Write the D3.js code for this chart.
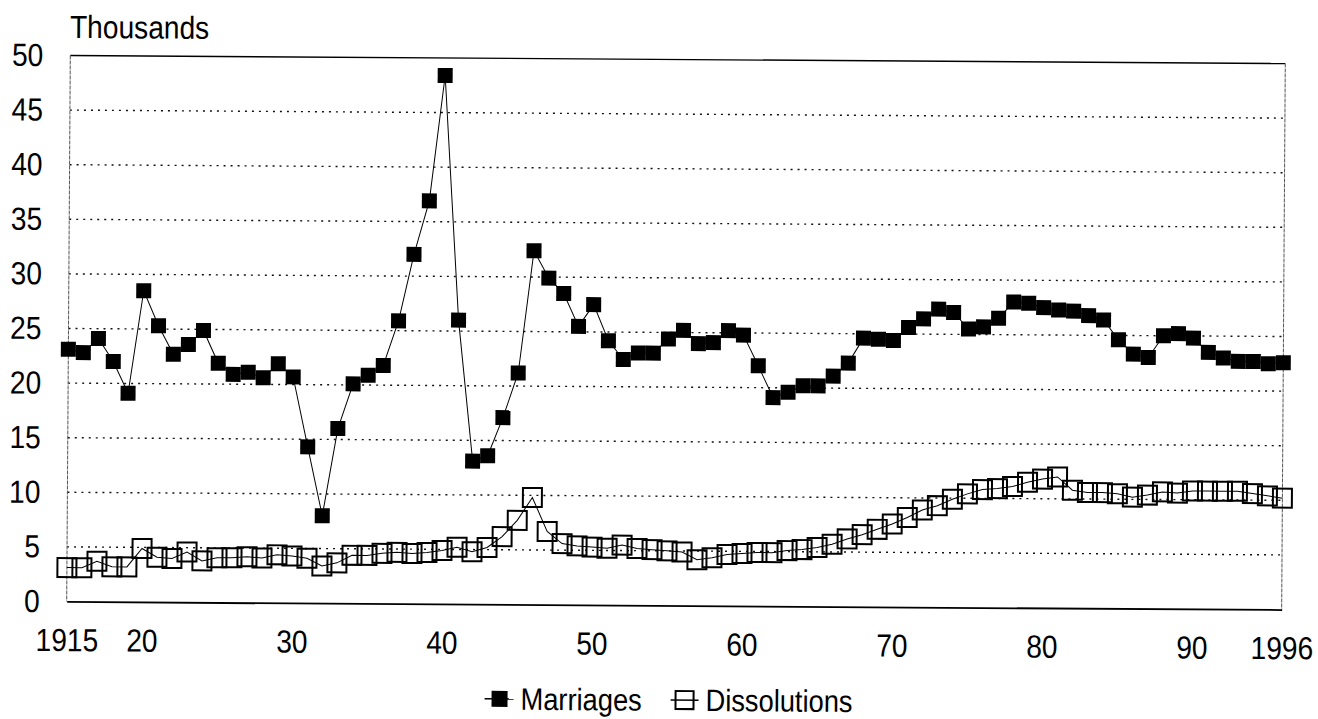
<!DOCTYPE html>
<html><head><meta charset="utf-8">
<script src="https://cdn.jsdelivr.net/npm/d3@7"></script>
<style>
body{margin:0;background:#fff}
text{font-family:"Liberation Sans",Arial,sans-serif;fill:#000}
</style>
</head><body>
<svg id="c" width="1318" height="719"></svg>
<script>
const years = d3.range(1915, 1997);
const marriages = [
  23.1, 22.8, 24.1, 22.0, 19.1, 28.5, 25.3, 22.7, 23.6, 24.9,
  21.9, 20.9, 21.1, 20.6, 21.9, 20.7, 14.3, 8.0, 16.0, 20.1,
  20.9, 21.8, 25.9, 32.0, 36.9, 48.4, 26.0, 13.1, 13.6, 17.1,
  21.2, 32.4, 29.9, 28.5, 25.5, 27.5, 24.2, 22.5, 23.1, 23.1,
  24.4, 25.2, 24.0, 24.1, 25.2, 24.8, 22.0, 19.1, 19.6, 20.2,
  20.2, 21.1, 22.3, 24.6, 24.5, 24.4, 25.6, 26.4, 27.3, 27.0,
  25.5, 25.7, 26.5, 28.0, 27.9, 27.5, 27.3, 27.2, 26.8, 26.4,
  24.6, 23.3, 23.0, 25.0, 25.2, 24.8, 23.5, 23.0, 22.7, 22.7,
  22.5, 22.6
];
const dissolutions = [
  3.1, 3.1, 3.7, 3.2, 3.2, 4.9, 4.1, 4.0, 4.6, 3.8,
  4.1, 4.1, 4.2, 4.1, 4.4, 4.3, 4.1, 3.4, 3.7, 4.4,
  4.4, 4.6, 4.7, 4.6, 4.7, 4.9, 5.2, 4.8, 5.2, 6.2,
  7.7, 9.8, 6.7, 5.6, 5.4, 5.3, 5.2, 5.5, 5.2, 5.1,
  5.0, 4.9, 4.2, 4.4, 4.7, 4.8, 4.9, 4.9, 5.1, 5.2,
  5.4, 5.7, 6.2, 6.6, 7.1, 7.6, 8.2, 8.9, 9.3, 9.9,
  10.4, 10.8, 10.9, 11.1, 11.5, 11.8, 12.0, 10.8, 10.6, 10.6,
  10.5, 10.2, 10.4, 10.7, 10.6, 10.8, 10.8, 10.8, 10.8, 10.6,
  10.4, 10.2
];
const yTicks = [0, 5, 10, 15, 20, 25, 30, 35, 40, 45, 50];
const gridTicks = [5, 10, 15, 20, 25, 30, 35, 40, 45];
const xTickYears = [1915, 1920, 1930, 1940, 1950, 1960, 1970, 1980, 1990, 1996];
const xTickLabels = ["1915", "20", "30", "40", "50", "60", "70", "80", "90", "1996"];
const seriesNames = ["Marriages", "Dissolutions"];
const unitLabel = "Thousands";

const FS = 32;
const NARROW = 0.88;
const svg = d3.select("#c");
const g = svg.append("g").attr("transform", "rotate(0.38,675,330)");

const x = d3.scaleLinear().domain([1915, 1996]).range([68.5, 1283.5]);
const y = d3.scaleLinear().domain([0, 50]).range([605.5, 59.5]);

// gridlines
g.append("g").selectAll("line").data(gridTicks).join("line")
  .attr("x1", x(1915)).attr("x2", x(1996))
  .attr("y1", d => y(d)).attr("y2", d => y(d))
  .attr("stroke", "#111").attr("stroke-width", 1.4)
  .attr("stroke-dasharray", "2,5");

// frame
g.append("line").attr("x1", x(1915)).attr("x2", x(1996)).attr("y1", y(50)).attr("y2", y(50))
  .attr("stroke", "#000").attr("stroke-width", 1.4);
g.append("line").attr("x1", x(1915)).attr("x2", x(1915)).attr("y1", y(50)).attr("y2", y(0))
  .attr("stroke", "#555").attr("stroke-width", 1).attr("stroke-dasharray", "4,1");
g.append("line").attr("x1", x(1996)).attr("x2", x(1996)).attr("y1", y(50)).attr("y2", y(0))
  .attr("stroke", "#555").attr("stroke-width", 1).attr("stroke-dasharray", "4,1");

// y axis labels
const yAxis = g.append("g").attr("transform", `translate(${x(1915)},0)`)
  .call(d3.axisLeft(y).tickValues(yTicks).tickSize(0).tickPadding(27));
yAxis.select(".domain").remove();
yAxis.selectAll("text").style("font-size", FS + "px").style("font-family", '"Liberation Sans",Arial,sans-serif');

// x axis
const xAxis = g.append("g").attr("transform", `translate(0,${y(0)})`)
  .call(d3.axisBottom(x).tickValues(xTickYears).tickFormat((d, i) => xTickLabels[i]).tickSize(0).tickPadding(27));
xAxis.select(".domain").attr("stroke", "#000").attr("stroke-width", 1.8);
xAxis.selectAll("text").style("font-size", FS + "px").style("font-family", '"Liberation Sans",Arial,sans-serif');

// unit label
g.append("text").attr("x", 68).attr("y", 42).style("font-size", "32px").text(unitLabel);

const line = d3.line().x((d, i) => x(years[i])).y(d => y(d));

// dissolutions
g.append("path").datum(dissolutions).attr("d", line)
  .attr("fill", "none").attr("stroke", "#000").attr("stroke-width", 1);
const DS = 19;
g.append("g").selectAll("rect").data(dissolutions).join("rect")
  .attr("x", (d, i) => x(years[i]) - DS / 2).attr("y", d => y(d) - DS / 2)
  .attr("width", DS).attr("height", DS)
  .attr("fill", "none").attr("stroke", "#000").attr("stroke-width", 2);

// marriages
g.append("path").datum(marriages).attr("d", line)
  .attr("fill", "none").attr("stroke", "#000").attr("stroke-width", 1);
const MS = 15;
g.append("g").selectAll("rect").data(marriages).join("rect")
  .attr("x", (d, i) => x(years[i]) - MS / 2).attr("y", d => y(d) - MS / 2)
  .attr("width", MS).attr("height", MS).attr("fill", "#000");

// legend
const ly = 700;
const LFS = 31;
const leg = g.append("g");
leg.append("line").attr("x1", 487).attr("x2", 516).attr("y1", ly).attr("y2", ly).attr("stroke", "#000").attr("stroke-width", 1.5);
leg.append("rect").attr("x", 494).attr("y", ly - 8).attr("width", 16).attr("height", 16).attr("fill", "#000");
leg.append("text").attr("x", 523).attr("y", ly).attr("dy", "0.35em").style("font-size", LFS + "px").text(seriesNames[0]);
leg.append("line").attr("x1", 673).attr("x2", 701).attr("y1", ly).attr("y2", ly).attr("stroke", "#000").attr("stroke-width", 1.5);
leg.append("rect").attr("x", 678).attr("y", ly - 9).attr("width", 18).attr("height", 18).attr("fill", "none").attr("stroke", "#000").attr("stroke-width", 2);
leg.append("text").attr("x", 708).attr("y", ly).attr("dy", "0.35em").style("font-size", LFS + "px").text(seriesNames[1]);

// narrow all text horizontally (condensed face of the original) around its anchor x
svg.selectAll("text").each(function () {
  const ax = +(this.getAttribute("x") || 0);
  this.setAttribute("transform", `translate(${ax},0) scale(${NARROW},1) translate(${-ax},0)`);
});
</script>
</body></html>
